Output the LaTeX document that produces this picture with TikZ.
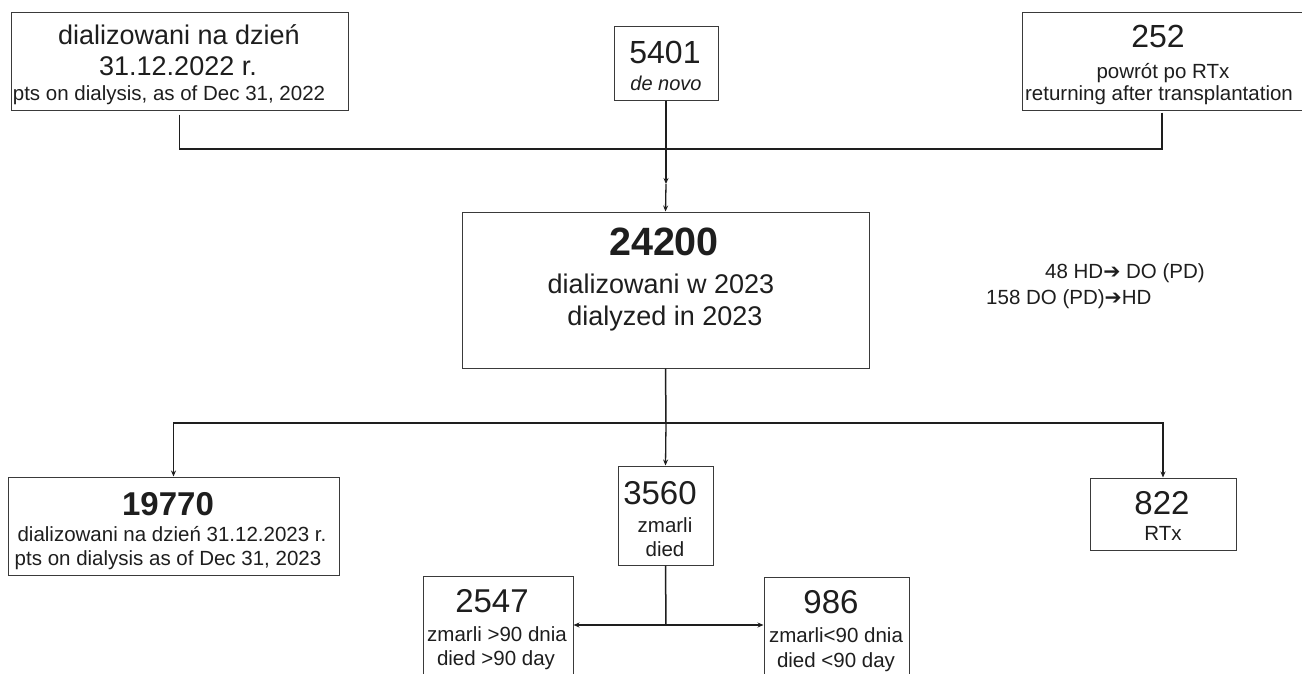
\documentclass[tikz,border=0pt]{standalone}
\usepackage{fontspec}
\setmainfont{Liberation Sans}
\newfontfamily\symfont{DejaVu Sans}
\usetikzlibrary{arrows.meta}
\definecolor{ink}{HTML}{1E1E1E}
\definecolor{frame}{HTML}{3A3A3A}
\tikzset{
  box/.style={draw=frame, line width=1pt, fill=white, inner sep=0pt, minimum width=#1},
  txt/.style={anchor=base, inner sep=0pt, text=ink},
  conn/.style={draw=ink, line width=1.5pt},
  arr/.style={draw=ink, line width=1.3pt, -{Stealth[length=6pt,width=5pt]}},
  fs/.style={font=\fontsize{#1}{#1}\selectfont},
}
\begin{document}
\begin{tikzpicture}[x=1pt,y=-1pt]
\useasboundingbox (0,0) rectangle (1302,673);
\clip (0,0) rectangle (1302,673);
\fill[white] (0,0) rectangle (1302,673);

% boxes
\node[box=337pt, minimum height=98pt]  (A) at (179.5,61) {};
\node[box=104pt, minimum height=74pt]  (B) at (666,63) {};
\node[box=280pt, minimum height=98pt]  (C) at (1162,61) {};
\node[box=407pt, minimum height=156pt] (D) at (665.5,290) {};
\node[box=331pt, minimum height=98pt]  (E) at (173.5,526) {};
\node[box=95pt,  minimum height=99pt]  (F) at (665.5,515.5) {};
\node[box=146pt, minimum height=72pt]  (G) at (1163,514) {};
\node[box=150pt, minimum height=140pt] (H) at (498,646) {};
\node[box=145pt, minimum height=140pt] (I) at (836.5,647) {};

% texts
\node[txt, fs=27]   (a1) at (179,44) {dializowani na dzień};
\node[txt, fs=27]   (a2) at (178,75) {31.12.2022 r.};
\node[txt, fs=20.5] (a3) at (169,100) {pts on dialysis, as of Dec 31, 2022};

\node[txt, fs=32]   (b1) at (665,63) {5401};
\node[txt, fs=20]   (b2) at (666,90) {\itshape de novo};

\node[txt, fs=32]   (c1) at (1158,47) {252};
\node[txt, fs=20.5] (c2) at (1163,78) {powrót po RTx};
\node[txt, fs=20.5] (c3) at (1159,100) {returning after transplantation};

\node[txt, font=\bfseries\fontsize{39.5}{39.5}\selectfont] (d1) at (664,255) {24200};
\node[txt, fs=27]   (d2) at (661,293) {dializowani w 2023};
\node[txt, fs=27]   (d3) at (665,325) {dialyzed in 2023};

\node[txt, fs=20.5, anchor=base west] (t1) at (1045,278) {48 HD{\symfont ➔} DO (PD)};
\node[txt, fs=20.5, anchor=base west] (t2) at (986,304) {158 DO (PD){\symfont ➔}HD};

\node[txt, font=\bfseries\fontsize{33}{33}\selectfont] (e1) at (168,515) {19770};
\node[txt, fs=20.5] (e2) at (172,541) {dializowani na dzień 31.12.2023 r.};
\node[txt, fs=20.5] (e3) at (168,565) {pts on dialysis as of Dec 31, 2023};

\node[txt, fs=33]   (f1) at (660,504) {3560};
\node[txt, fs=20.5] (f2) at (665,532) {zmarli};
\node[txt, fs=20.5] (f3) at (665,556) {died};

\node[txt, fs=33]   (g1) at (1162,514) {822};
\node[txt, fs=20.5] (g2) at (1163,540) {RTx};

\node[txt, fs=33]   (h1) at (492,612) {2547};
\node[txt, fs=20.5] (h2) at (497,641) {zmarli >90 dnia};
\node[txt, fs=20.5] (h3) at (496,665) {died >90 day};

\node[txt, fs=33]   (i1) at (831,613) {986};
\node[txt, fs=20.5] (i2) at (836,642) {zmarli<90 dnia};
\node[txt, fs=20.5] (i3) at (836,667) {died <90 day};

% junctions
\coordinate (J1) at (666,149);
\coordinate (M1) at (666,184);
\coordinate (J2) at (666,423);
\coordinate (J3) at (666,625);

% connectors top
\draw[conn] ([yshift=-4pt]A.south) |- (J1);
\draw[conn] ([yshift=-2pt]C.south) |- (J1);
\draw[conn] (B.south) -- (J1);
\draw[arr] (J1) -- (M1);
\draw[arr] (M1) -- (D.north);

% connectors middle
\draw[conn] (D.south) -- (J2);
\draw[arr] (J2) -| (E.north);
\draw[arr] (J2) -- (F.north);
\draw[arr] (J2) -| (G.north);

% connectors bottom
\draw[conn] (F.south) -- (J3);
\draw[arr] (J3) -- (H.east |- J3);
\draw[arr] (J3) -- (I.west |- J3);
\end{tikzpicture}
\end{document}
